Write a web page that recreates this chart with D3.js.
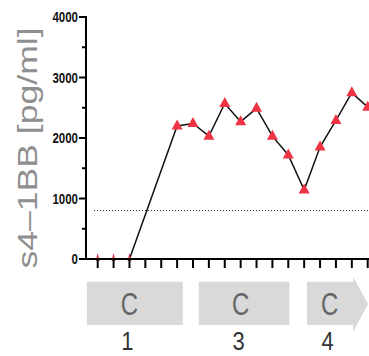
<!DOCTYPE html>
<html>
<head>
    <script src="https://d3js.org/d3.v7.min.js"></script>
    <style>
        body { margin: 0; background: #fff; }
        svg { display: block; font-family: "Liberation Sans", Arial, sans-serif; }
    </style>
</head>
<body>
    <svg width="369" height="356"></svg>
    <script>
        // sample positions along the x axis and s4-1BB values
        const days = [0, 1, 2, 5, 6, 7, 8, 9, 10, 11, 12, 13, 14, 15, 16, 17];
        const values = [0, 0, 0, 2200, 2240, 2030, 2570, 2270, 2490, 2030, 1720, 1140, 1850, 2290, 2750, 2510];
        const xTicks = [0, 1, 2, 3, 4, 5, 6, 7, 8, 9, 10, 11, 12, 13, 14, 15, 16, 17];
        const yMajor = [0, 1000, 2000, 3000, 4000];
        const yMinor = [500, 1500, 2500, 3500];
        const threshold = 800;

        // treatment cycle blocks under the axis
        const cycleNames = ["C", "C", "C"];
        const cycleNumbers = ["1", "3", "4"];
        const cycleStart = [-0.68, 6.36, 13.18];
        const cycleEnd = [5.36, 12.07, 16.08];
        const cycleMid = [2, 9, 14.6];

        const svg = d3.select("svg");
        const axisY = 259;
        const axisX = 86;

        const x = d3.scaleLinear().domain([0, 17]).range([97.7, 367.7]);
        const y = d3.scaleLinear().domain([0, 4000]).range([axisY, 17]);

        // y label (the source figure is stretched vertically)
        svg.append("text")
            .attr("transform", "translate(37,148) scale(1,1.27) rotate(-90)")
            .attr("text-anchor", "middle")
            .attr("font-size", 28)
            .attr("fill", "#8f8f8f")
            .text("s4\u20131BB [pg/ml]");

        // threshold dotted line
        svg.append("line")
            .attr("x1", 94).attr("x2", 369)
            .attr("y1", y(threshold)).attr("y2", y(threshold))
            .attr("stroke", "#222").attr("stroke-width", 1)
            .attr("stroke-dasharray", "1,2");

        // data line
        const line = d3.line().x((d, i) => x(days[i])).y(d => y(d));
        svg.append("path")
            .datum(values)
            .attr("d", line)
            .attr("fill", "none")
            .attr("stroke", "#111")
            .attr("stroke-width", 1.5);

        // markers
        svg.selectAll(".tri")
            .data(values)
            .join("path")
            .attr("class", "tri")
            .attr("transform", (d, i) => `translate(${x(days[i])},${y(d)})`)
            .attr("d", d => d === 0 ? "M0,-6L2,2L-2,2Z" : "M0,-6.5L5.5,3.5L-5.5,3.5Z")
            .attr("fill", "#ee3344");

        // axes
        const axes = svg.append("g").attr("stroke", "#000").attr("stroke-width", 2);
        axes.append("line").attr("x1", axisX).attr("x2", axisX).attr("y1", y(4000) - 1).attr("y2", axisY + 1);
        axes.append("line").attr("x1", axisX - 1).attr("x2", 369).attr("y1", axisY).attr("y2", axisY);
        axes.selectAll(".ymaj").data(yMajor).join("line")
            .attr("x1", axisX - 7).attr("x2", axisX).attr("y1", d => y(d)).attr("y2", d => y(d));
        axes.selectAll(".ymin").data(yMinor).join("line")
            .attr("x1", axisX - 4).attr("x2", axisX).attr("y1", d => y(d)).attr("y2", d => y(d));
        axes.selectAll(".xt").data(xTicks).join("line")
            .attr("x1", d => x(d)).attr("x2", d => x(d)).attr("y1", axisY).attr("y2", axisY + 9);

        svg.selectAll(".ylab").data(yMajor).join("text")
            .attr("transform", d => `translate(${axisX - 8},${y(d)}) scale(1,1.3)`)
            .attr("dy", "0.36em")
            .attr("text-anchor", "end")
            .attr("font-size", 11.5)
            .attr("font-weight", "bold")
            .attr("fill", "#111")
            .text(d => d);

        // cycle blocks
        const boxTop = 281.7, boxBottom = 325;
        cycleNames.forEach((name, i) => {
            const x0 = x(cycleStart[i]), x1 = x(cycleEnd[i]);
            if (i === cycleNames.length - 1) {
                const tip = x(17.02);
                svg.append("path")
                    .attr("d", `M${x0},${boxTop}H${x1}V276.7L${tip},304L${x1},331.7V${boxBottom}H${x0}Z`)
                    .attr("fill", "#d9d9d9");
            } else {
                svg.append("rect")
                    .attr("x", x0).attr("y", boxTop)
                    .attr("width", x1 - x0).attr("height", boxBottom - boxTop)
                    .attr("fill", "#d9d9d9");
            }
            svg.append("text")
                .attr("transform", `translate(${x(cycleMid[i])},303.5) scale(1,1.3)`)
                .attr("dy", "0.36em")
                .attr("text-anchor", "middle")
                .attr("font-size", 24)
                .attr("fill", "#666")
                .text(name);
            svg.append("text")
                .attr("transform", `translate(${x(cycleMid[i]) - 2},350) scale(1,1.15)`)
                .attr("text-anchor", "middle")
                .attr("font-size", 22)
                .attr("fill", "#333")
                .text(cycleNumbers[i]);
        });
    </script>
</body>
</html>
